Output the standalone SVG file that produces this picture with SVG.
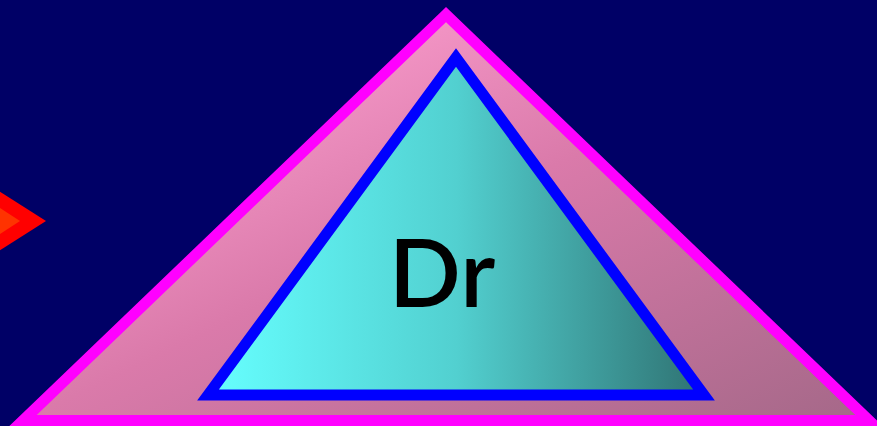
<svg xmlns="http://www.w3.org/2000/svg" width="877" height="426" viewBox="0 0 877 426">
  <defs>
    <linearGradient id="pinkGrad" x1="0" y1="0" x2="1" y2="1">
      <stop offset="0" stop-color="#ffa2d2"/>
      <stop offset="0.25" stop-color="#f294c4"/>
      <stop offset="0.5" stop-color="#da7aaa"/>
      <stop offset="1" stop-color="#a46888"/>
    </linearGradient>
    <linearGradient id="cyanGrad" x1="0" y1="0" x2="1" y2="0">
      <stop offset="0" stop-color="#66ffff"/>
      <stop offset="0.5" stop-color="#52d0d0"/>
      <stop offset="1" stop-color="#2f7272"/>
    </linearGradient>
    <style>
      .outer { fill: url(#pinkGrad); stroke: #ff00ff; stroke-width: 11; stroke-linejoin: miter; stroke-miterlimit: 10; }
      .inner { fill: url(#cyanGrad); stroke: #0000ff; stroke-width: 11; stroke-linejoin: miter; stroke-miterlimit: 10; }
      .label { font-family: "Lato", "Liberation Sans", sans-serif; font-size: 95px; font-weight: 600; fill: #000000; text-anchor: middle; }
      .arrow-out { fill: #ff0000; }
      .arrow-in { fill: #ff3300; }
    </style>
  </defs>
  <rect x="0" y="0" width="877" height="426" fill="#000066"/>
  <g id="connectors">
    <polygon class="arrow-out" points="46,221 -10,185.5 -10,256.5"/>
    <polygon class="arrow-in" points="20,221 -10,201.5 -10,240.5"/>
  </g>
  <g id="node-outer">
    <polygon class="outer" points="446,14.6 23,420.5 869,420.5"/>
  </g>
  <g id="node-dr">
    <polygon class="inner" points="456,57.6 208,395 704,395"/>
    <text class="label" x="442" y="307">Dr</text>
  </g>
</svg>
